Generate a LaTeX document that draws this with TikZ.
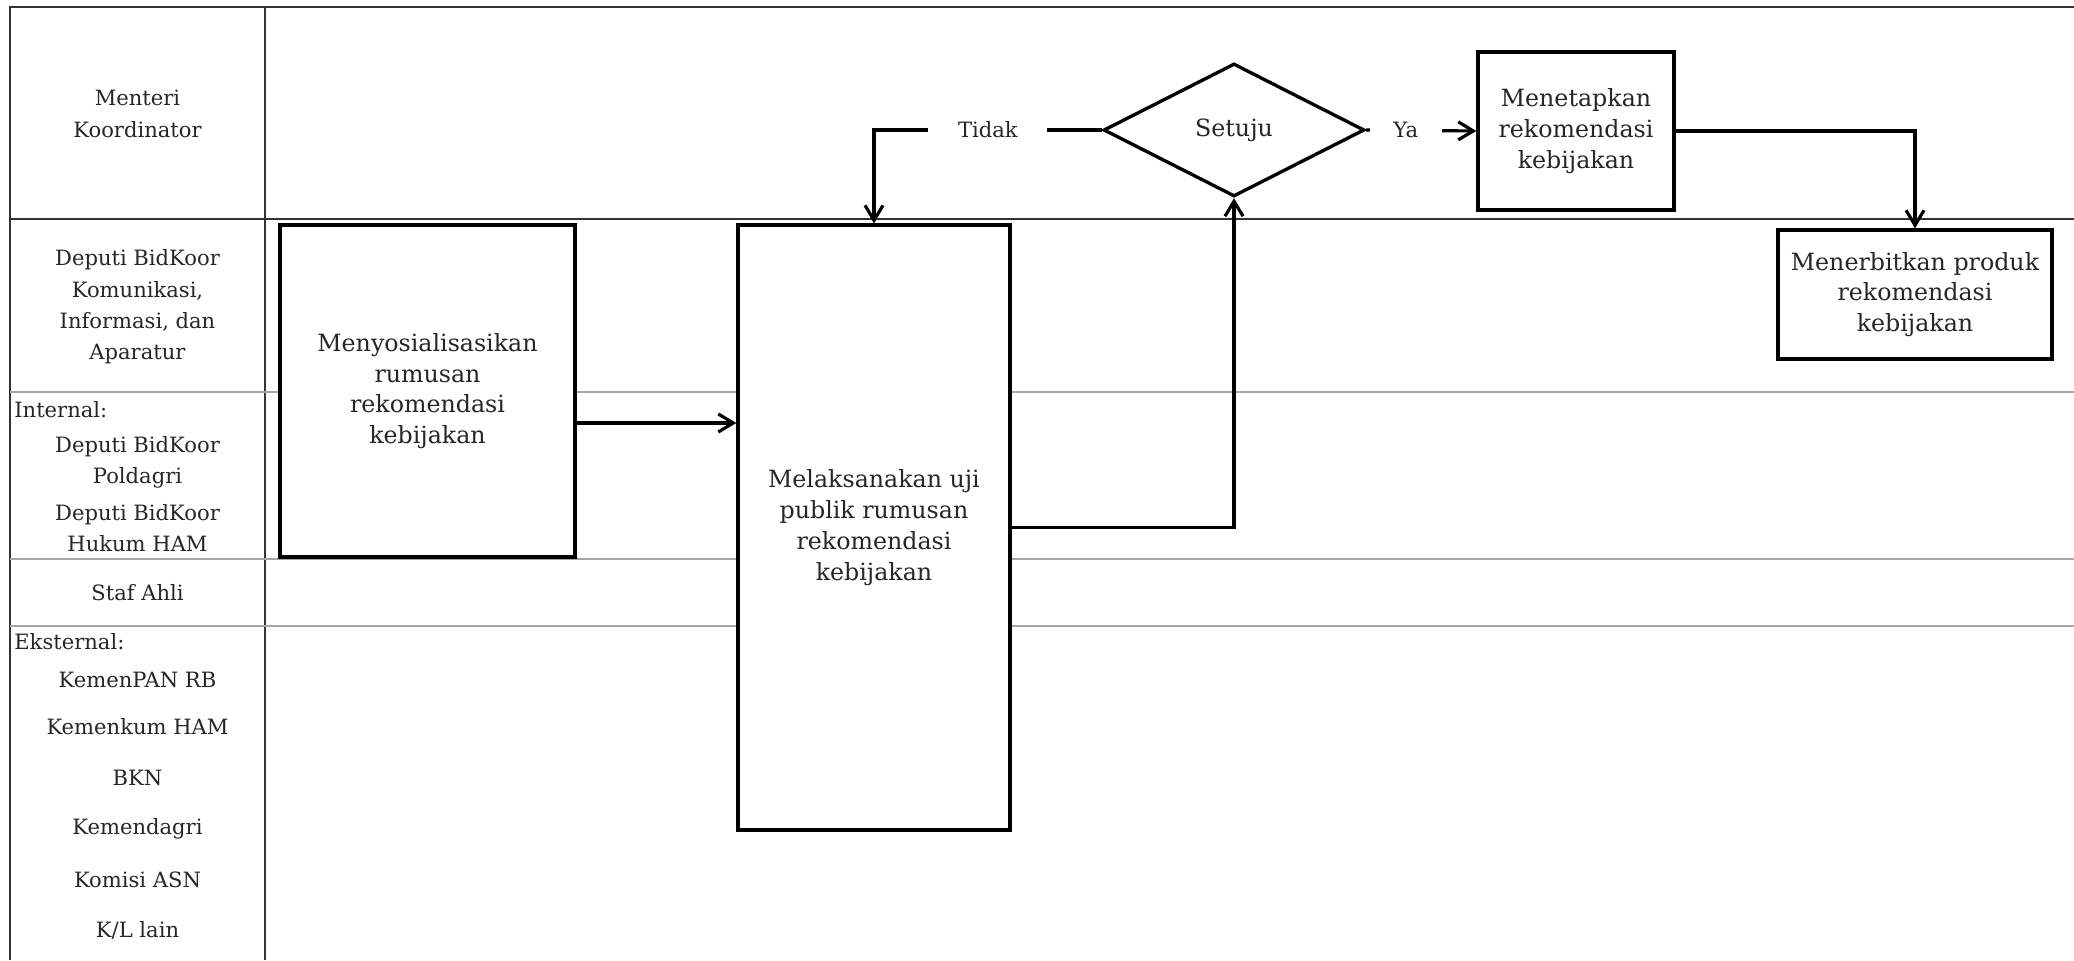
\documentclass[tikz,border=0pt]{standalone}
\usepackage{fontspec}
\setmainfont{DejaVu Serif}
\usetikzlibrary{positioning,arrows.meta,shapes.geometric}

\begin{document}
\begin{tikzpicture}[
  x = 0.02cm, y = -0.02cm,
  every node/.style = {font=\fontsize{12}{17.8}\selectfont, text=black!85},
  frame/.style = {line width=1.3pt, draw=black!80},
  lane/.style  = {line width=1.3pt, draw=gray!70},
  lbl/.style   = {align=center, inner sep=0pt},
  box/.style   = {draw, line width=1.9pt, fill=white, align=center, inner sep=2pt,
                  font=\fontsize{13.5}{17.5}\selectfont},
  dec/.style   = {diamond, draw, line width=1.9pt, fill=white, inner sep=0pt,
                  minimum width=5.22cm, minimum height=2.66cm,
                  font=\fontsize{13.5}{17.5}\selectfont},
  ar/.style    = {-{Straight Barb[length=3mm,width=3.6mm]}, line width=1.8pt},
  tag/.style   = {fill=white, inner sep=0pt, font=\fontsize{12}{14}\selectfont}
]

\useasboundingbox (0,0) rectangle (2074,960);

% swimlanes
\draw[frame] (2074,7) -- (10,7) -- (10,960);
\draw[frame] (265,7) -- (265,960);
\draw[frame] (10,219) -- (2074,219);
\draw[lane]  (10,392) -- (2074,392);
\draw[lane]  (10,559) -- (2074,559);
\draw[lane]  (10,626) -- (2074,626);

% lane labels
\node[lbl] (menko)  at (137.5,114) {Menteri\\Koordinator};
\node[lbl] (deputi) at (137.5,307) {Deputi BidKoor\\Komunikasi,\\Informasi, dan\\Aparatur};
\node[lbl, anchor=west] (intl) at (14,410) {Internal:};
\node[lbl] (poldagri) at (137.5,462) {Deputi BidKoor\\Poldagri};
\node[lbl] (hukham)   at (137.5,528) {Deputi BidKoor\\Hukum HAM};
\node[lbl] (staf)   at (137.5,593) {Staf Ahli};
\node[lbl, anchor=west] (ekst) at (14,642) {Eksternal:};
\node[lbl] (kempan) at (137.5,680) {KemenPAN RB};
\node[lbl] (kemkum) at (137.5,727) {Kemenkum HAM};
\node[lbl] (bkn)    at (137.5,778) {BKN};
\node[lbl] (kemdag) at (137.5,829) {Kemendagri};
\node[lbl] (kasn)   at (137.5,880) {Komisi ASN};
\node[lbl] (kl)     at (137.5,930) {K/L lain};

% process steps
\node[box, minimum width=5.9cm, minimum height=6.64cm] (sos) at (427.5,391)
  {Menyosialisasikan\\rumusan\\rekomendasi\\kebijakan};
\node[box, minimum width=5.44cm, minimum height=12.1cm] (uji) at (874,527.5)
  {Melaksanakan uji\\publik rumusan\\rekomendasi\\kebijakan};
\node[dec] (setuju) at (1234,130) {Setuju};
\node[box, minimum width=3.92cm, minimum height=3.16cm] (tetap) at (1576,131)
  {Menetapkan\\rekomendasi\\kebijakan};
\node[box, minimum width=5.48cm, minimum height=2.58cm] (terbit) at (1915,294.5)
  {Menerbitkan produk\\rekomendasi\\kebijakan};

% flow
\coordinate (sosout) at ([yshift=-0.64cm]sos.east);
\draw[ar] (sosout) -- (sosout -| uji.west);
\draw[ar] (uji.east) -| (setuju.south);
\draw[ar] (setuju.west) -| node[tag, pos=0.25, minimum width=2.38cm] {Tidak} (uji.north);
\draw[ar] (setuju.east) -- node[tag, pos=0.36, minimum width=1.44cm] {Ya} (tetap.west);
\draw[ar] (tetap.east) -| (terbit.north);

\end{tikzpicture}
\end{document}
